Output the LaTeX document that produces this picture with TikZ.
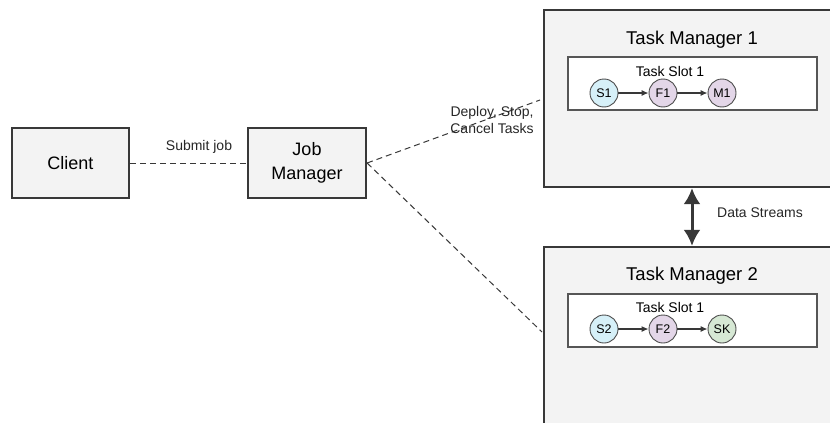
\documentclass[tikz,border=0pt]{standalone}
\usepackage{fontspec}
\setmainfont{Liberation Sans}
\usetikzlibrary{arrows.meta}
\definecolor{boxfill}{HTML}{F3F3F3}
\definecolor{boxline}{HTML}{383838}
\definecolor{srcfill}{HTML}{D6F0F8}
\definecolor{opfill}{HTML}{E3D6E8}
\definecolor{sinkfill}{HTML}{D6E8D4}
\begin{document}
\begin{tikzpicture}[x=1pt,y=-1pt,
  box/.style={draw=boxline, line width=2.2pt, fill=boxfill, inner sep=0pt, align=center, font=\fontsize{18}{24}\selectfont},
  slot/.style={draw=boxline!85, line width=1.2pt, fill=white, inner sep=0pt},
  op/.style={circle, draw=boxline!90, line width=0.9pt, minimum size=28pt, inner sep=0pt, font=\fontsize{12.5}{14}\selectfont},
  lbl/.style={font=\fontsize{14}{17}\selectfont, text=black!85, align=center},
  link/.style={draw=boxline, line width=1pt, dash pattern=on 6pt off 4pt},
  flow/.style={draw=boxline, line width=1.2pt, -{Latex[length=7pt,width=6pt]}}]

\useasboundingbox (0,0) rectangle (830,423);
\clip (0,0) rectangle (830,423);

\node[box, minimum width=117pt, minimum height=70pt] (client) at (70.5,163) {Client};
\node[box, minimum width=118pt, minimum height=70pt] (jm) at (307,163) {Job\\Manager};

\node[box, minimum width=316pt, minimum height=177pt] (tm1) at (702,98.5) {};
\node[box, minimum width=316pt, minimum height=230pt] (tm2) at (702,362) {};

\node[font=\fontsize{18.5}{22}\selectfont] (tm1title) at (692,40) {Task Manager 1};
\node[font=\fontsize{18.5}{22}\selectfont] (tm2title) at (692,276) {Task Manager 2};

\node[slot, minimum width=249pt, minimum height=53pt] (slot1) at (692.5,83.5) {};
\node[slot, minimum width=249pt, minimum height=53pt] (slot2) at (692.5,320.5) {};
\node[lbl, text=black] (slot1title) at (670,71) {Task Slot 1};
\node[lbl, text=black] (slot2title) at (670,307) {Task Slot 1};

\node[op, fill=srcfill] (s1) at (604,93) {S1};
\node[op, fill=opfill] (f1) at (663,93) {F1};
\node[op, fill=opfill] (m1) at (722,93) {M1};

\node[op, fill=srcfill] (s2) at (604,329) {S2};
\node[op, fill=opfill] (f2) at (663,329) {F2};
\node[op, fill=sinkfill] (sk) at (722,329) {SK};

\draw[flow] (s1) -- (f1);
\draw[flow] (f1) -- (m1);
\draw[flow] (s2) -- (f2);
\draw[flow] (f2) -- (sk);

% control links
\coordinate (tm1in) at (540,100);
\coordinate (tm2in) at (542,332);
\draw[link] (client.east) -- (jm.west);
\draw[link] (jm.east) -- (tm1in);
\draw[link] (jm.east) -- (tm2in);

\node[lbl] (submit) at (199,147) {Submit job};
\node[lbl, font=\fontsize{14}{17}\selectfont] (deploy) at (492,120) {Deploy, Stop,\\Cancel Tasks};

% data exchange
\draw[draw=boxline, line width=3pt, {Latex[length=16pt,width=17pt]}-{Latex[length=16pt,width=17pt]}] (tm1.south -| 692,0) -- (tm2.north -| 692,0);
\node[lbl] (streams) at (760,213) {Data Streams};
\end{tikzpicture}
\end{document}
